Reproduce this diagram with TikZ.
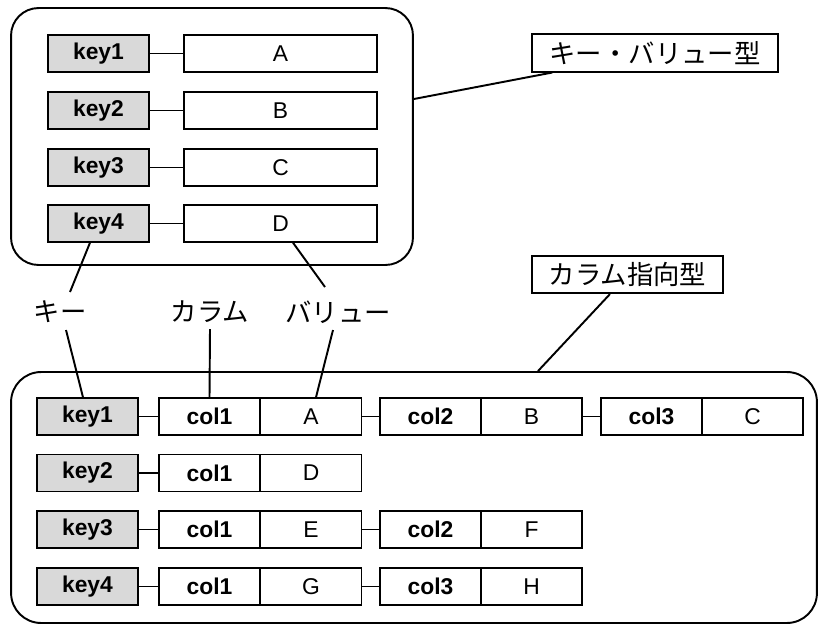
\documentclass[tikz,border=0pt]{standalone}
\usepackage{fontspec}
\setmainfont{Liberation Sans}
\newfontfamily\jpfont{Noto Sans CJK JP}
\usetikzlibrary{positioning,calc}
\definecolor{keygray}{RGB}{217,217,217}

\begin{document}
\begin{tikzpicture}
[x=0.02cm,y=-0.02cm,
K/.style={draw,fill=keygray,line width=.8pt,minimum width=2.02cm,minimum height=.74cm,inner sep=0pt,font=\fontsize{13}{15}\selectfont\bfseries},
C/.style={draw,fill=white,line width=.8pt,minimum width=2.02cm,minimum height=.74cm,inner sep=0pt,font=\fontsize{13}{15}\selectfont\bfseries},
W/.style={draw,fill=white,line width=.8pt,minimum width=2.02cm,minimum height=.74cm,inner sep=0pt,font=\fontsize{13}{15}\selectfont},
frame/.style={draw,line width=1.1pt,inner sep=0pt},
tag/.style={draw,line width=.9pt,minimum height=.75cm,inner sep=0pt,font=\jpfont\fontsize{15}{17}\selectfont},
lbl/.style={inner sep=0pt,font=\jpfont\fontsize{15}{17}\selectfont},
myedge/.style={line width=1.1pt}]
\useasboundingbox (0,0) rectangle (818,626);
%%
%%%%%%%%%%%%%%%%%%
% key-value
%%%%%%%%%%%%%%%%%%
\node[frame,rounded corners=.55cm,minimum width=8.04cm,minimum height=5.14cm] (kvframe) at (212,136.5) {};
\node[tag,minimum width=4.92cm] (kvtag) at (655,53) {キー・バリュー型};
%%
\node[K] (kvk1) at (98.5,53.5) {key1};
\node[W,minimum width=3.86cm] (kvv1) at (280.5,53.5) {A};
\node[K] (kvk2) at (98.5,110.5) {key2};
\node[W,minimum width=3.86cm] (kvv2) at (280.5,110.5) {B};
\node[K] (kvk3) at (98.5,167.5) {key3};
\node[W,minimum width=3.86cm] (kvv3) at (280.5,167.5) {C};
\node[K] (kvk4) at (98.5,223.5) {key4};
\node[W,minimum width=3.86cm] (kvv4) at (280.5,223.5) {D};
%%
\draw[myedge] (kvk1) -- (kvv1);
\draw[myedge] (kvk2) -- (kvv2);
\draw[myedge] (kvk3) -- (kvv3);
\draw[myedge] (kvk4) -- (kvv4);
\draw[myedge] ($(kvframe.east)+(0,-37.5)$) -- ($(kvtag.south west)+(21,0)$);
%%
%%%%%%%%%%%%%%%%%%
% labels
%%%%%%%%%%%%%%%%%%
\node[lbl] (lblkey) at (60,312) {キー};
\node[lbl] (lblcol) at (210,312) {カラム};
\node[lbl] (lblval) at (338,312) {バリュー};
%%
%%%%%%%%%%%%%%%%%%
% column
%%%%%%%%%%%%%%%%%%
\node[frame,rounded corners=.6cm,minimum width=16.12cm,minimum height=5.02cm] (colframe) at (414,497.5) {};
\node[tag,minimum width=3.82cm] (coltag) at (627.5,274.5) {カラム指向型};
%% row 1
\node[K] (ck1) at (87.5,416.5) {key1};
\node[C] (r1c1n) at (209.5,416.5) {col1};
\node[W] (r1c1v) at (311,416.5) {A};
\node[C] (r1c2n) at (430.5,416.5) {col2};
\node[W] (r1c2v) at (531.5,416.5) {B};
\node[C] (r1c3n) at (651.5,416.5) {col3};
\node[W] (r1c3v) at (752.5,416.5) {C};
%% row 2
\node[K] (ck2) at (87.5,473) {key2};
\node[C] (r2c1n) at (209.5,473) {col1};
\node[W] (r2c1v) at (311,473) {D};
%% row 3
\node[K] (ck3) at (87.5,529.5) {key3};
\node[C] (r3c1n) at (209.5,529.5) {col1};
\node[W] (r3c1v) at (311,529.5) {E};
\node[C] (r3c2n) at (430.5,529.5) {col2};
\node[W] (r3c2v) at (531.5,529.5) {F};
%% row 4
\node[K] (ck4) at (87.5,586.5) {key4};
\node[C] (r4c1n) at (209.5,586.5) {col1};
\node[W] (r4c1v) at (311,586.5) {G};
\node[C] (r4c3n) at (430.5,586.5) {col3};
\node[W] (r4c3v) at (531.5,586.5) {H};
%%
\draw[myedge] (ck1) -- (r1c1n);
\draw[myedge] (r1c1v) -- (r1c2n);
\draw[myedge] (r1c2v) -- (r1c3n);
\draw[myedge] (ck2) -- (r2c1n);
\draw[myedge] (ck3) -- (r3c1n);
\draw[myedge] (r3c1v) -- (r3c2n);
\draw[myedge] (ck4) -- (r4c1n);
\draw[myedge] (r4c1v) -- (r4c3n);
\draw[myedge] ($(coltag.south)+(-17.5,0)$) -- ($(colframe.north)+(124,0)$);
%%
%% pointers
\draw[myedge] ($(kvk4.south)+(-8.5,0)$) -- ($(lblkey)+(10,-20)$);
\draw[myedge] ($(lblkey)+(6,18)$) -- ($(ck1.north)+(-4.5,0)$);
\draw[myedge] ($(lblcol)+(0,17)$) -- (r1c1n.north);
\draw[myedge] ($(kvv4.south)+(12.5,0)$) -- ($(lblval)+(-13,-25)$);
\draw[myedge] ($(lblval)+(-5,18)$) -- ($(r1c1v.north)+(5,0)$);
%%
\end{tikzpicture}
\end{document}
